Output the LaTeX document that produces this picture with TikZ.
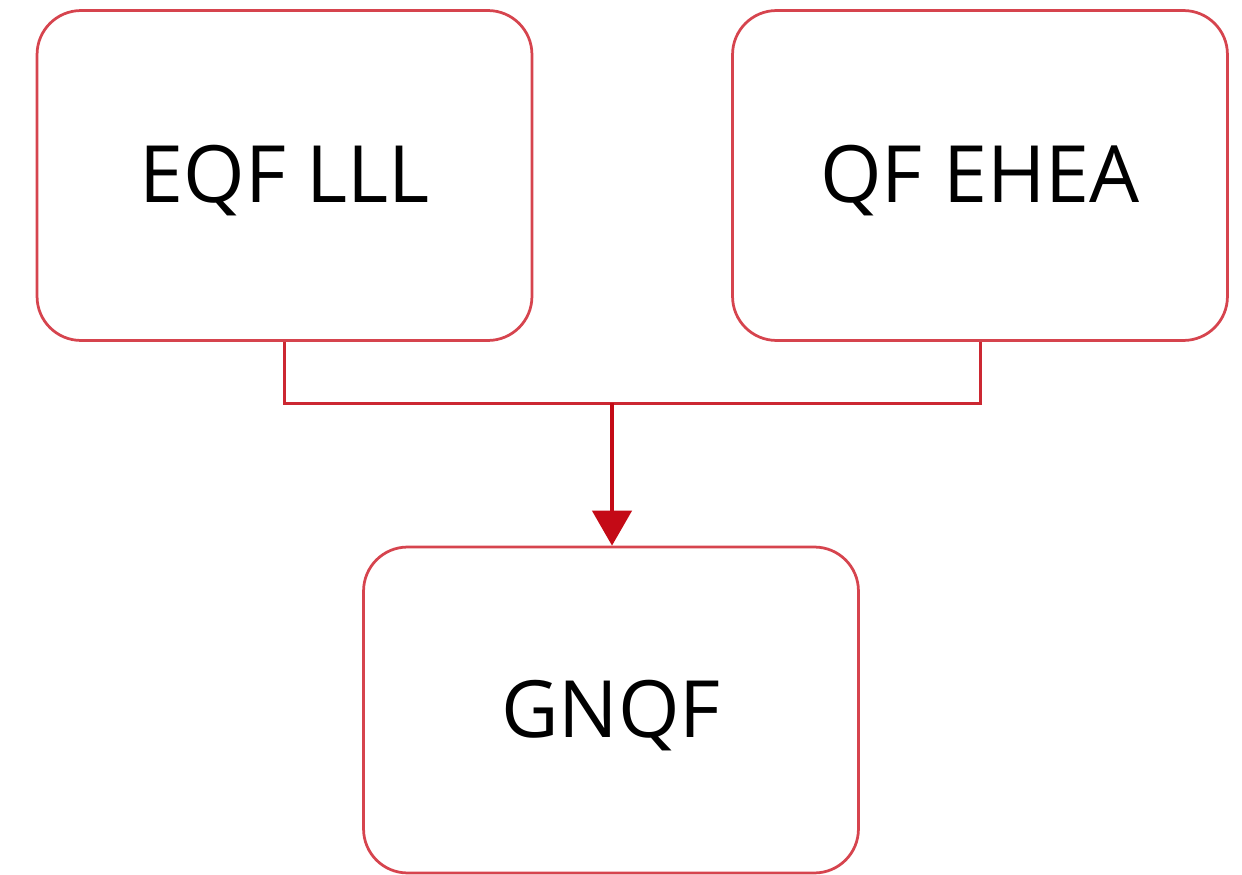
\documentclass[tikz,border=0pt]{standalone}
\usepackage{fontspec}
\setmainfont{Open Sans}
\usetikzlibrary{arrows.meta}
\definecolor{boxred}{RGB}{214,68,78}
\definecolor{linered}{RGB}{204,40,50}
\definecolor{arrowred}{RGB}{196,10,22}
\tikzset{
  box/.style={draw=boxred, line width=0.055cm, rounded corners=0.88cm, fill=white,
    minimum width=9.9cm, minimum height=6.6cm, inner sep=0pt,
    font=\fontsize{45}{54}\selectfont, text=black},
  conn/.style={draw=linered, line width=0.06cm},
  arr/.style={draw=arrowred, line width=0.09cm, -{Triangle[length=0.7cm,width=0.78cm]}}
}
\newcommand{\lowtext}[1]{\raisebox{-0.11cm}[\height][\depth]{#1}}
\begin{document}
\begin{tikzpicture}[x=0.02cm,y=-0.02cm]
\useasboundingbox (0,0) rectangle (1242,875);
\node[box] (L) at (284.5,175.5) {\lowtext{EQF LLL}};
\node[box] (R) at (980,175.5) {\lowtext{QF EHEA}};
\node[box, minimum height=6.52cm] (B) at (611,710) {\lowtext{GNQF}};
\coordinate (j) at (612,403);
\draw[conn] (L.south) |- (j) -| (R.south);
\draw[arr] (j) -- (B.north -| j);
\end{tikzpicture}
\end{document}
